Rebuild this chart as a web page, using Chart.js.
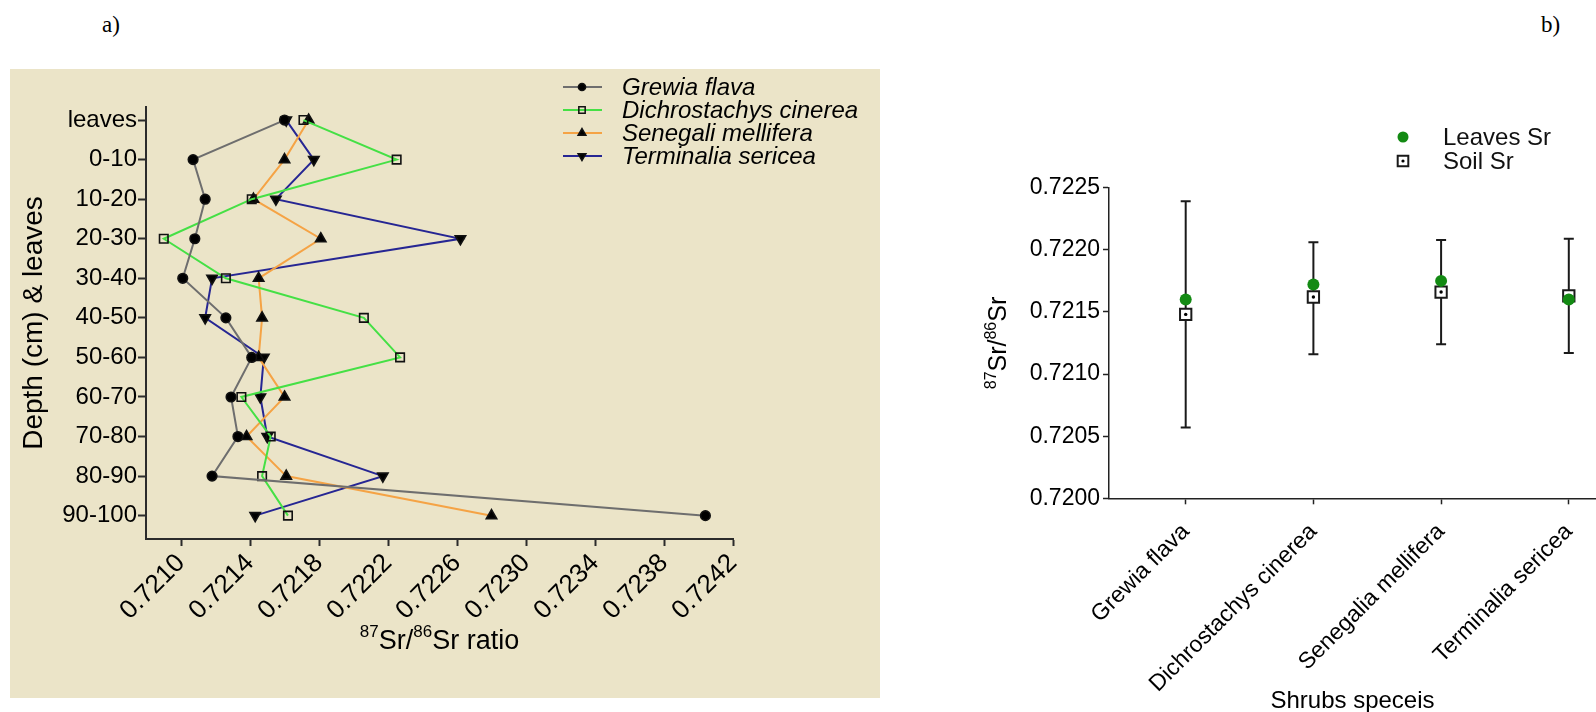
<!DOCTYPE html>
<html>
<head>
<meta charset="utf-8">
<script src="https://cdn.jsdelivr.net/npm/chart.js@4.4.1/dist/chart.umd.min.js"></script>
<style>
    html, body { margin: 0; padding: 0; background: #fff; overflow: hidden; width: 1596px; height: 712px; }
    body { position: relative; font-family: "Liberation Sans", Arial, sans-serif; }
    .panel-label { position: absolute; top: 13px; font-family: "Liberation Serif", "Times New Roman", serif; font-size: 23px; line-height: 24px; color: #000; }
    #wrap-a { position: absolute; left: 10px; top: 69px; width: 870px; height: 629px; background: #ebe4c8; }
    #wrap-b { position: absolute; left: 900px; top: 100px; width: 716px; height: 616px; }
</style>
</head>
<body>
<div class="panel-label" style="left:102px">a)</div>
<div class="panel-label" style="left:1541px">b)</div>
<div id="wrap-a"><canvas id="chart-a"></canvas></div>
<div id="wrap-b"><canvas id="chart-b"></canvas></div>
<script>
// --- panel a: Sr ratio by depth ---
const depthLabels = ['leaves', '0-10', '10-20', '20-30', '30-40', '40-50', '50-60', '60-70', '70-80', '80-90', '90-100'];
const grewiaFlava = [0.72160, 0.72107, 0.72114, 0.72108, 0.72101, 0.72126, 0.72141, 0.72129, 0.72133, 0.72118, 0.72404];
const dichrostachysCinerea = [0.72171, 0.72225, 0.72141, 0.72090, 0.72126, 0.72206, 0.72227, 0.72135, 0.72152, 0.72147, 0.72162];
const senegaliMellifera = [0.72174, 0.72160, 0.72142, 0.72181, 0.72145, 0.72147, 0.72145, 0.72160, 0.72138, 0.72161, 0.72280];
const terminaliaSericea = [0.72161, 0.72177, 0.72155, 0.72262, 0.72118, 0.72114, 0.72148, 0.72146, 0.72150, 0.72217, 0.72143];
const ratioTicks = [0.7210, 0.7214, 0.7218, 0.7222, 0.7226, 0.7230, 0.7234, 0.7238, 0.7242];

// --- panel b: leaves vs soil per shrub ---
const shrubSpecies = ['Grewia flava', 'Dichrostachys cinerea', 'Senegalia mellifera', 'Terminalia sericea'];
const leavesSr = [0.72160, 0.72172, 0.72175, 0.72160];
const soilSr = [0.72148, 0.72162, 0.72166, 0.72163];
const soilSrLow = [0.72057, 0.72116, 0.72124, 0.72117];
const soilSrHigh = [0.72239, 0.72206, 0.72208, 0.72209];
const srTicks = [0.7200, 0.7205, 0.7210, 0.7215, 0.7220, 0.7225];

const FONT = '"Liberation Sans", Arial, sans-serif';
Chart.defaults.font.family = FONT;
Chart.defaults.color = '#000';

const xTitleA = [{ text: '87', sup: true }, { text: 'Sr/' }, { text: '86', sup: true }, { text: 'Sr ratio' }];
const yTitleB = [{ text: '87', sup: true }, { text: 'Sr/' }, { text: '86', sup: true }, { text: 'Sr' }];

function drawSupText(ctx, parts, x, y, size, rotation) {
    const supSize = Math.round(size * 0.62);
    ctx.save();
    ctx.translate(x, y);
    ctx.rotate(rotation);
    ctx.fillStyle = '#000';
    ctx.textBaseline = 'alphabetic';
    ctx.textAlign = 'left';
    let total = 0;
    parts.forEach(p => {
        ctx.font = (p.sup ? supSize : size) + 'px ' + FONT;
        total += ctx.measureText(p.text).width;
    });
    let cx = -total / 2;
    const base = size * 0.36;
    parts.forEach(p => {
        ctx.font = (p.sup ? supSize : size) + 'px ' + FONT;
        ctx.fillText(p.text, cx, p.sup ? base - size * 0.42 : base);
        cx += ctx.measureText(p.text).width;
    });
    ctx.restore();
}

function markPoint(ctx, style, radius, rotation, fill, stroke, borderWidth, x, y) {
    ctx.save();
    ctx.fillStyle = fill;
    ctx.strokeStyle = stroke;
    ctx.lineWidth = borderWidth;
    Chart.helpers.drawPoint(ctx, { pointStyle: style, radius: radius, rotation: rotation, borderWidth: borderWidth }, x, y);
    ctx.restore();
}

const seriesA = [
    { label: 'Grewia flava', values: grewiaFlava, color: '#6e6e6e', style: 'circle', radius: 4.8, rotation: 0, fill: '#000' },
    { label: 'Dichrostachys cinerea', values: dichrostachysCinerea, color: '#45e045', style: 'rect', radius: 6, rotation: 0, fill: 'rgba(0,0,0,0)' },
    { label: 'Senegali mellifera', values: senegaliMellifera, color: '#f5a345', style: 'triangle', radius: 6, rotation: 0, fill: '#000' },
    { label: 'Terminalia sericea', values: terminaliaSericea, color: '#262693', style: 'triangle', radius: 6, rotation: 180, fill: '#000' }
];

const legendA = {
    id: 'legendA',
    afterDraw(chart) {
        const ctx = chart.ctx;
        seriesA.forEach((s, i) => {
            const y = 18 + i * 23;
            ctx.save();
            ctx.strokeStyle = s.color;
            ctx.lineWidth = 2;
            ctx.beginPath();
            ctx.moveTo(553, y);
            ctx.lineTo(592, y);
            ctx.stroke();
            ctx.restore();
            markPoint(ctx, s.style, s.radius * 0.75, s.rotation, s.fill, '#111', 1.5, 572, y);
            ctx.save();
            ctx.font = 'italic 24px ' + FONT;
            ctx.fillStyle = '#000';
            ctx.textBaseline = 'middle';
            ctx.fillText(s.label, 612, y + 1);
            ctx.restore();
        });
        const area = chart.chartArea;
        drawSupText(ctx, xTitleA, (area.left + area.right) / 2, area.bottom + 100, 27, 0);
    }
};

new Chart(document.getElementById('chart-a'), {
    type: 'scatter',
    data: {
        datasets: seriesA.map(s => ({
            label: s.label,
            data: s.values.map((v, i) => ({ x: v, y: i })),
            showLine: true,
            borderColor: s.color,
            borderWidth: 2,
            pointStyle: s.style,
            pointRadius: s.radius,
            pointRotation: s.rotation,
            pointBackgroundColor: s.fill,
            pointBorderColor: '#111',
            pointBorderWidth: 1.6
        }))
    },
    options: {
        responsive: true,
        maintainAspectRatio: false,
        animation: false,
        layout: { padding: { top: 38, right: 147, left: 0, bottom: 0 } },
        plugins: { legend: { display: false }, tooltip: { enabled: false } },
        scales: {
            x: {
                type: 'linear',
                min: 0.720797,
                max: 0.7242,
                afterBuildTicks: s => { s.ticks = ratioTicks.map(v => ({ value: v })); },
                afterFit: s => { s.height = 159; },
                ticks: {
                    autoSkip: false,
                    minRotation: 45,
                    maxRotation: 45,
                    padding: 2,
                    font: { size: 26 },
                    callback: v => v.toFixed(4)
                },
                grid: { drawOnChartArea: false, drawTicks: true, tickLength: 7, tickWidth: 2, tickColor: '#2b2b2b' },
                border: { display: true, color: '#2b2b2b', width: 2 }
            },
            y: {
                type: 'linear',
                reverse: true,
                min: -0.33,
                max: 10.59,
                afterBuildTicks: s => { s.ticks = depthLabels.map((_, i) => ({ value: i })); },
                afterFit: s => { s.width = 136; },
                ticks: {
                    autoSkip: false,
                    padding: 1,
                    font: { size: 24 },
                    callback: v => depthLabels[v]
                },
                grid: { drawOnChartArea: false, drawTicks: true, tickLength: 8, tickWidth: 2, tickColor: '#2b2b2b' },
                border: { display: true, color: '#2b2b2b', width: 2 },
                title: { display: true, text: 'Depth (cm) & leaves', font: { size: 28 }, padding: { top: 7, bottom: 0 } }
            }
        }
    },
    plugins: [legendA]
});

const panelB = {
    id: 'panelB',
    beforeDatasetsDraw(chart) {
        const ctx = chart.ctx;
        const xs = chart.scales.x, ys = chart.scales.y;
        ctx.save();
        ctx.strokeStyle = '#1a1a1a';
        ctx.lineWidth = 2;
        shrubSpecies.forEach((_, i) => {
            const x = xs.getPixelForValue(i);
            const yl = ys.getPixelForValue(soilSrLow[i]);
            const yh = ys.getPixelForValue(soilSrHigh[i]);
            ctx.beginPath();
            ctx.moveTo(x, yh); ctx.lineTo(x, yl);
            ctx.moveTo(x - 5, yh); ctx.lineTo(x + 5, yh);
            ctx.moveTo(x - 5, yl); ctx.lineTo(x + 5, yl);
            ctx.stroke();
        });
        ctx.restore();
    },
    afterDraw(chart) {
        const ctx = chart.ctx;
        const area = chart.chartArea;
        markPoint(ctx, 'circle', 5.5, 0, '#138a13', '#138a13', 0, 503, 37);
        markPoint(ctx, 'rect', 7.5, 0, '#fff', '#1a1a1a', 2, 503, 61);
        markPoint(ctx, 'circle', 1.6, 0, '#000', '#000', 0, 503, 61);
        ctx.save();
        ctx.font = '24px ' + FONT;
        ctx.fillStyle = '#111';
        ctx.textBaseline = 'middle';
        ctx.fillText('Leaves Sr', 543, 38);
        ctx.fillText('Soil Sr', 543, 62);
        ctx.restore();
        drawSupText(ctx, yTitleB, area.left - 112, (area.top + area.bottom) / 2, 25, -Math.PI / 2);
    }
};

new Chart(document.getElementById('chart-b'), {
    type: 'scatter',
    data: {
        datasets: [
            {
                label: 'Leaves Sr',
                data: leavesSr.map((v, i) => ({ x: i, y: v })),
                pointStyle: 'circle',
                pointRadius: 6,
                pointBackgroundColor: '#138a13',
                pointBorderColor: '#138a13',
                pointBorderWidth: 0
            },
            {
                label: 'Soil Sr centre',
                data: soilSr.map((v, i) => ({ x: i, y: v })),
                pointStyle: 'circle',
                pointRadius: 1.7,
                pointBackgroundColor: '#000',
                pointBorderWidth: 0
            },
            {
                label: 'Soil Sr',
                data: soilSr.map((v, i) => ({ x: i, y: v })),
                pointStyle: 'rect',
                pointRadius: 8,
                pointBackgroundColor: '#fff',
                pointBorderColor: '#1a1a1a',
                pointBorderWidth: 2
            }
        ]
    },
    options: {
        responsive: true,
        maintainAspectRatio: false,
        animation: false,
        layout: { padding: { top: 87.7, right: 20, left: 0, bottom: 0 } },
        plugins: { legend: { display: false }, tooltip: { enabled: false } },
        scales: {
            x: {
                type: 'linear',
                min: -0.6006,
                max: 3.213,
                afterBuildTicks: s => { s.ticks = shrubSpecies.map((_, i) => ({ value: i })); },
                afterFit: s => { s.height = 217.7; },
                ticks: {
                    autoSkip: false,
                    minRotation: 45,
                    maxRotation: 45,
                    padding: 14,
                    font: { size: 23 },
                    callback: v => shrubSpecies[v]
                },
                grid: { drawOnChartArea: false, drawTicks: true, tickLength: 6, tickWidth: 1.5, tickColor: '#222' },
                border: { display: true, color: '#222', width: 1.5 },
                title: { display: true, text: 'Shrubs speceis', font: { size: 24 }, padding: 0 }
            },
            y: {
                type: 'linear',
                min: 0.7200,
                max: 0.7225,
                afterBuildTicks: s => { s.ticks = srTicks.map(v => ({ value: v })); },
                afterFit: s => { s.width = 209; },
                ticks: {
                    padding: 3,
                    font: { size: 23 },
                    callback: v => v.toFixed(4)
                },
                grid: { drawOnChartArea: false, drawTicks: true, tickLength: 6, tickWidth: 1.5, tickColor: '#222' },
                border: { display: true, color: '#222', width: 1.5 }
            }
        }
    },
    plugins: [panelB]
});
</script>
</body>
</html>
